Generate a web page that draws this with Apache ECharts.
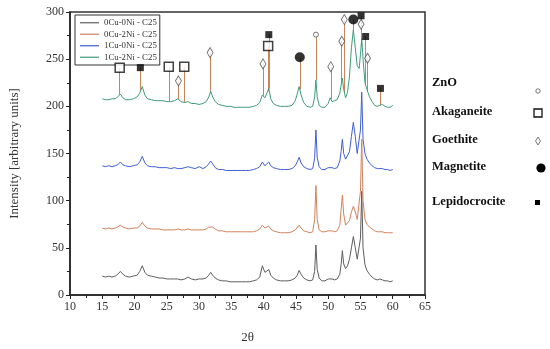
<!DOCTYPE html>
<html><head><meta charset="utf-8">
<script src="https://cdn.jsdelivr.net/npm/echarts@6/dist/echarts.min.js"></script>
<style>html,body{margin:0;padding:0;background:#fff}#c{width:550px;height:349px}</style>
</head><body><div id="c"></div>
<script>
const twoTheta = [15,15.5,16,16.5,17,17.4,17.8,18.2,18.6,19.2,
 19.8,20.4,20.8,21.2,21.6,22.0,22.6,23.2,23.8,24.4,
 25.0,25.6,26.2,26.7,27.2,27.8,28.3,28.8,29.4,30.0,
 30.6,31.1,31.5,31.8,32.1,32.5,33.0,33.6,34.2,34.8,
 35.4,36.0,36.6,37.2,37.8,38.4,38.9,39.4,39.8,40.2,
 40.5,40.8,41.1,41.5,42.0,42.6,43.2,43.8,44.4,44.9,
 45.2,45.5,45.8,46.2,46.7,47.2,47.6,47.9,48.1,48.3,
 48.6,49.0,49.5,50.0,50.3,50.6,51.0,51.4,51.8,52.0,
 52.2,52.4,52.7,53.0,53.3,53.6,53.9,54.2,54.5,54.8,
 55.0,55.2,55.4,55.7,56.0,56.4,56.8,57.2,57.6,58.0,
 58.4,58.8,59.2,59.6,60.0];
const s0Cu0Ni = [20,19,20,19,20,22,25,22,20,19,
 20,21,25,31,24,21,20,19,18,18,
 17,17,17,17,16,17,19,17,16,17,
 17,18,21,24,21,18,16,15,15,14,
 14,14,14,14,14,15,16,19,31,24,
 23,27,21,18,16,15,15,15,16,18,
 21,26,22,18,16,15,16,25,53,27,
 18,15,15,17,19,17,16,17,22,32,
 47,33,28,31,38,50,62,50,38,38,
 60,110,50,32,26,22,19,17,16,17,
 16,15,15,14,15];
const s0Cu2Ni = [71,70,71,70,71,72,74,72,71,70,
 71,71,73,77,73,71,70,70,70,69,
 69,69,69,70,69,69,70,69,69,69,
 69,70,72,74,72,70,68,68,67,67,
 67,67,67,67,67,67,68,70,74,71,
 71,73,70,68,67,66,66,66,67,69,
 71,74,71,68,67,66,67,80,116,80,
 69,67,67,68,70,68,67,68,74,90,
 106,86,74,75,79,88,94,88,80,79,
 110,165,100,80,75,72,70,68,67,67,
 67,66,66,66,66];
const s1Cu0Ni = [137,136,137,136,137,138,141,138,137,136,
 137,138,141,147,140,137,136,136,135,135,
 135,134,135,134,134,135,136,135,134,136,
 134,136,139,142,139,135,133,133,132,132,
 132,132,132,132,132,133,134,136,141,137,
 137,141,137,135,134,133,133,133,134,137,
 141,146,140,136,134,133,134,145,175,146,
 136,133,133,135,137,135,134,135,142,152,
 165,150,144,146,152,168,183,168,150,150,
 175,215,165,150,144,140,137,135,134,134,
 134,133,133,132,133];
const s1Cu2Ni = [208,207,207,208,208,210,213,209,207,207,
 208,210,214,221,212,208,207,206,206,206,
 205,205,206,208,205,204,205,203,203,202,
 203,205,210,216,210,205,202,201,200,200,
 199,199,199,199,199,200,201,204,212,209,
 210,219,208,203,201,200,200,200,201,206,
 213,221,212,204,200,199,200,210,228,210,
 201,199,199,203,209,205,206,207,214,222,
 230,218,209,215,232,262,281,262,243,240,
 255,272,250,225,218,210,205,201,200,201,
 202,200,199,199,201];
const seriesNames = ['0Cu-0Ni - C25','0Cu-2Ni - C25','1Cu-0Ni - C25','1Cu-2Ni - C25'];

const phaseNames = ['ZnO','Akaganeite','Goethite','Magnetite','Lepidocrocite'];
const znoX = [48.1], znoY = [276];
const akaX = [17.7,25.3,27.7,40.7], akaY = [241,242,242,264];
const goeX = [26.8,31.7,39.9,50.4,52.1,52.5,55.1,56.1], goeY = [227,257,245,242,269,292,287,251];
const magX = [45.6,53.9], magY = [252,292];
const lepX = [20.9,40.8,55.1,55.8,58.1], lepY = [241,276,296,274,219];

const xTicks = {min:10,max:65,interval:5};
const yTicks = {min:0,max:300,interval:50};

function pairs(xs, ys){ return xs.map((x,i)=>[x, ys[i]]); }
function greenAt(x){
  for (let i=0;i<twoTheta.length-1;i++){
    if (x>=twoTheta[i] && x<=twoTheta[i+1]){
      const t=(x-twoTheta[i])/(twoTheta[i+1]-twoTheta[i]);
      return s1Cu2Ni[i]+t*(s1Cu2Ni[i+1]-s1Cu2Ni[i]);
    }
  }
  return s1Cu2Ni[s1Cu2Ni.length-1];
}
const allMarks = [[znoX,znoY],[akaX,akaY],[goeX,goeY],[magX,magY],[lepX,lepY]];
const dropLines = [];
allMarks.forEach(([xs,ys])=>xs.forEach((x,i)=>dropLines.push([{coord:[x,ys[i]]},{coord:[x,greenAt(x)]}])));

const serif = 'Liberation Serif';
const lineColors = ['#5e5e5e','#d3825f','#3f5fd4','#3f9c7a'];
const curves = [s0Cu0Ni,s0Cu2Ni,s1Cu0Ni,s1Cu2Ni];

const series = curves.map((ys,k)=>({
  name: seriesNames[k], type:'line', data: pairs(twoTheta, ys),
  symbol:'none', showSymbol:false, lineStyle:{width:1, color:lineColors[k]},
  itemStyle:{color:lineColors[k]}, z:2+k, silent:true,
  markLine: k===3 ? {silent:true, symbol:'none', label:{show:false},
    lineStyle:{color:'#c98459', width:1, type:'solid'}, animation:false, data: dropLines} : undefined
}));
series.push(
 {name:'ZnO', type:'scatter', data:pairs(znoX,znoY), symbol:'circle', symbolSize:5, itemStyle:{color:'#fff',borderColor:'#555',borderWidth:1}, z:10},
 {name:'Akaganeite', type:'scatter', data:pairs(akaX,akaY), symbol:'rect', symbolSize:9, itemStyle:{color:'#fff',borderColor:'#111',borderWidth:1.5}, z:10},
 {name:'Goethite', type:'scatter', data:pairs(goeX,goeY), symbol:'diamond', symbolSize:[6,10], itemStyle:{color:'#fff',borderColor:'#444',borderWidth:0.9}, z:10},
 {name:'Magnetite', type:'scatter', data:pairs(magX,magY), symbol:'circle', symbolSize:10, itemStyle:{color:'#000'}, z:10},
 {name:'Lepidocrocite', type:'scatter', data:pairs(lepX,lepY), symbol:'rect', symbolSize:7, itemStyle:{color:'#000'}, z:10}
);

// right-hand key
const keyY = [84,113,141,168,203];
const graphics = [];
phaseNames.forEach((n,i)=>{
  graphics.push({type:'text', left:432, top:keyY[i]-8, style:{text:n, font:'bold 12.5px "Liberation Serif"', fill:'#111'}});
});
graphics.push(
 {type:'circle', shape:{cx:538, cy:91, r:2.2}, style:{fill:'#fff', stroke:'#666', lineWidth:0.9}},
 {type:'rect', shape:{x:534, y:109, width:8, height:8}, style:{fill:'#fff', stroke:'#111', lineWidth:1.3}},
 {type:'polygon', shape:{points:[[538,137],[540.5,141],[538,145],[535.5,141]]}, style:{fill:'#fff', stroke:'#666', lineWidth:0.9}},
 {type:'circle', shape:{cx:541, cy:168, r:4.6}, style:{fill:'#000'}},
 {type:'rect', shape:{x:535, y:200, width:5, height:5}, style:{fill:'#000'}}
);

const chart = echarts.init(document.getElementById('c'), null, {renderer:'canvas'});
chart.setOption({
  animation:false,
  backgroundColor:'#fff',
  grid:{left:68, right:125, top:12, bottom:52, show:true, borderColor:'#333', borderWidth:1.5, backgroundColor:'transparent'},
  legend:{data:seriesNames, orient:'vertical', left:75, top:15, icon:'rect', itemWidth:19, itemHeight:1.2, itemGap:0,
    padding:[2,3,2,5], borderColor:'#333', borderWidth:1, backgroundColor:'#fff',
    textStyle:{fontFamily:serif, fontSize:8.8, color:'#333', lineHeight:11.5}, selectedMode:false},
  xAxis:{type:'value', min:xTicks.min, max:xTicks.max, interval:xTicks.interval,
    name:'2θ', nameLocation:'middle', nameGap:36, nameTextStyle:{fontFamily:serif, fontSize:13, color:'#333'},
    axisLine:{lineStyle:{color:'#222', width:1.5}}, axisTick:{inside:false, length:4, lineStyle:{color:'#222'}},
    minorTick:{show:true, splitNumber:2, length:3, lineStyle:{color:'#222'}},
    axisLabel:{fontFamily:serif, fontSize:12, color:'#333', margin:6}, splitLine:{show:false}},
  yAxis:{type:'value', min:yTicks.min, max:yTicks.max, interval:yTicks.interval,
    name:'Intensity [arbitrary units]', nameLocation:'middle', nameGap:49, nameRotate:90,
    nameTextStyle:{fontFamily:serif, fontSize:13, color:'#333'},
    axisLine:{show:true, lineStyle:{color:'#222', width:1.5}}, axisTick:{show:true, inside:false, length:4, lineStyle:{color:'#222'}},
    minorTick:{show:true, splitNumber:2, length:3, lineStyle:{color:'#222'}},
    axisLabel:{fontFamily:serif, fontSize:12, color:'#333', margin:6}, splitLine:{show:false}},
  graphic: graphics,
  series: series
});
</script></body></html>
